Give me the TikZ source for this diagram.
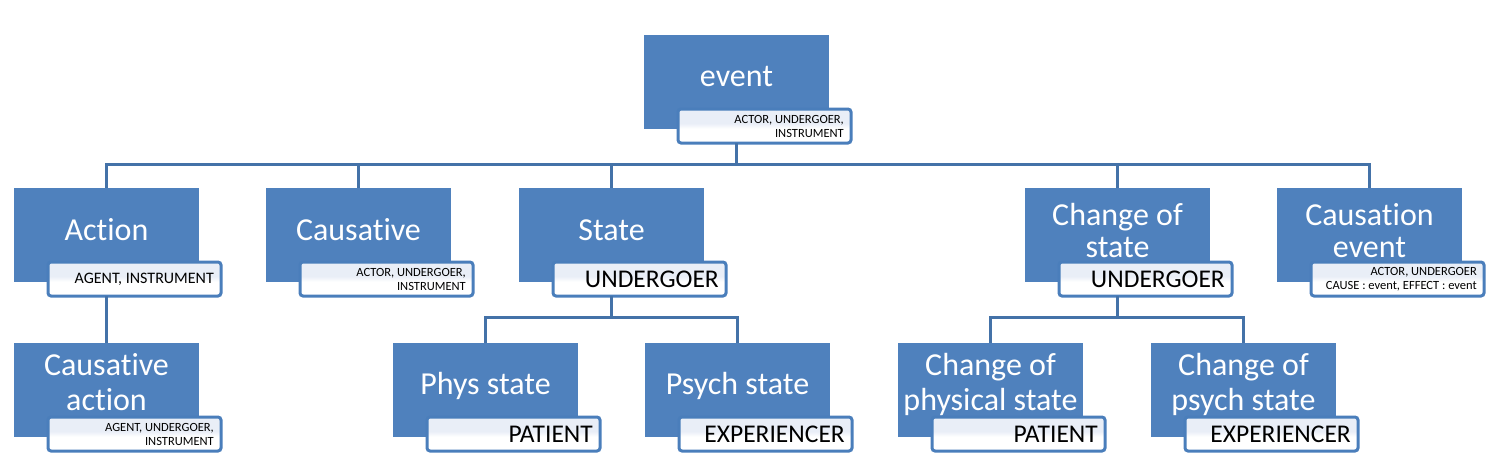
\documentclass[tikz,border=0pt]{standalone}
\usepackage{fontspec}
\setmainfont{Carlito}[Ligatures=NoCommon]
\usetikzlibrary{calc}
\definecolor{mainblue}{HTML}{4F81BD}
\definecolor{edgeblue}{HTML}{4A7EBB}
\definecolor{connblue}{HTML}{4472A8}
\definecolor{lblue}{HTML}{E9EEF7}
\pgfdeclareverticalshading{lblshade}{100bp}{color(0bp)=(white); color(46bp)=(white); color(54bp)=(lblue); color(100bp)=(lblue)}
\newcommand\lsmall{\fontsize{12.5}{14}\selectfont}
\newcommand\lmid{\fontsize{16}{18}\selectfont}
\newcommand\lbig{\fontsize{25.5}{28}\selectfont}
\tikzset{
  mainbox/.style={anchor=north west, minimum width=185pt, minimum height=94pt, inner sep=0pt, outer sep=0pt, fill=mainblue},
  lblbox/.style={anchor=north west, minimum width=173pt, minimum height=34pt, inner sep=0pt, outer sep=0pt, draw=edgeblue, line width=3pt, rounded corners=3pt, shading=lblshade},
  maintxt/.style={anchor=base, text=white, font=\fontsize{32}{35}\selectfont, align=center, inner sep=0pt},
  lbltxt/.style={anchor=east, align=right, inner sep=0pt, text=black},
  conn/.style={draw=connblue, line width=3pt, line join=miter}
}
% #5 = distance from the box top to the baseline of the LAST text line
\newcommand\tbox[7]{%
  \node[mainbox] (#1) at (#2,#3) {};
  \node[lblbox] (#1L) at (#2+34,#3+74) {};
  \node[maintxt] (#1T) at ([yshift=-#5pt]#1.north) {#4};
  \node[lbltxt,font=#7] (#1X) at ([xshift=-7pt]#1L.east) {#6};
}
\begin{document}
\begin{tikzpicture}[x=1pt,y=-1pt]
\useasboundingbox (0,0) rectangle (1497,475);
\tbox{event}{644}{35}{event}{51}{ACTOR, UNDERGOER,\\INSTRUMENT}{\lsmall}
\tbox{action}{14}{188}{Action}{52}{AGENT, INSTRUMENT}{\lmid}
\tbox{causative}{266}{188}{Causative}{52}{ACTOR, UNDERGOER,\\INSTRUMENT}{\lsmall}
\tbox{state}{519}{188}{State}{52}{UNDERGOER}{\lbig}
\tbox{cstate}{1025}{188}{Change of\\[-3pt]state}{69}{UNDERGOER}{\lbig}
\tbox{cevent}{1277}{188}{Causation\\[-3pt]event}{69}{ACTOR, UNDERGOER\\CAUSE : event, EFFECT : event}{\lsmall}
\tbox{caction}{14}{343}{Causative\\action}{67}{AGENT, UNDERGOER,\\INSTRUMENT}{\lsmall}
\tbox{phys}{393}{343}{Phys state}{51}{PATIENT}{\lbig}
\tbox{psych}{645}{343}{Psych state}{51}{EXPERIENCER}{\lbig}
\tbox{cphys}{898}{343}{Change of\\physical state}{67}{PATIENT}{\lbig}
\tbox{cpsych}{1151}{343}{Change of\\psych state}{67}{EXPERIENCER}{\lbig}
\coordinate (bus1) at (0,164);
\coordinate (bus2) at (0,317);
\foreach \c in {action,causative,state,cstate,cevent}{
  \draw[conn] (event.south |- eventL.south) -- (event.south |- bus1) -| (\c.north);
}
\draw[conn] (action.south |- actionL.south) -- (caction.north);
\foreach \c in {phys,psych}{
  \draw[conn] (state.south |- stateL.south) -- (state.south |- bus2) -| (\c.north);
}
\foreach \c in {cphys,cpsych}{
  \draw[conn] (cstate.south |- cstateL.south) -- (cstate.south |- bus2) -| (\c.north);
}
\end{tikzpicture}
\end{document}
